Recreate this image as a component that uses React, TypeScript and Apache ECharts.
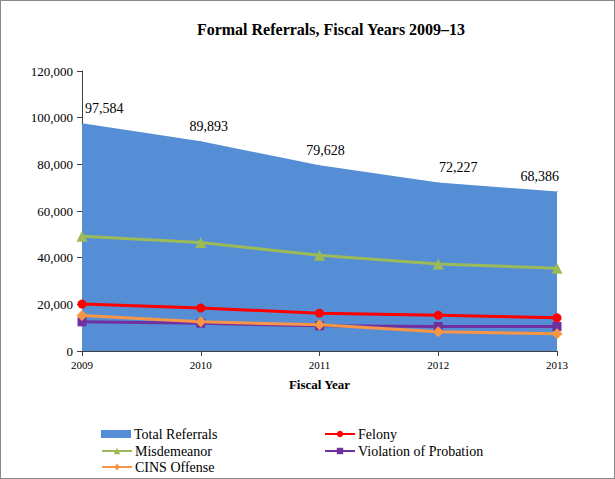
import React, { useEffect, useRef } from "react";
import * as echarts from "echarts";

const years = ["2009", "2010", "2011", "2012", "2013"];
const totalReferrals = [97584, 89893, 79628, 72227, 68386];
const felony = [20100, 18400, 16200, 15300, 14200];
const misdemeanor = [49200, 46500, 41000, 37300, 35500];
const violation = [12500, 11900, 10800, 10500, 10500];
const cins = [15200, 12500, 11200, 8200, 7400];

const FONT = "Liberation Serif";

const labelTweaks = [
  { align: "left", offset: [3, 0] },
  { align: "center", offset: [8, 0] },
  { align: "center", offset: [6, 0] },
  { align: "center", offset: [20, 0] },
  { align: "right", offset: [2, 0] },
];

const legendSlots = [
  { name: "Total Referrals", icon: "rect", left: 100, top: 426 },
  { name: "Felony", left: 323, top: 426 },
  { name: "Misdemeanor", left: 100, top: 443 },
  { name: "Violation of Probation", left: 323, top: 443 },
  { name: "CINS Offense", left: 100, top: 459 },
];

export default function App() {
  const ref = useRef<HTMLDivElement>(null);
  useEffect(() => {
    if (!ref.current) return;
    const chart = echarts.init(ref.current, null, { renderer: "svg" });
    const lineSeries = (name: string, data: number[], color: string, symbol: string, size: number) => ({
      name,
      type: "line",
      data,
      symbol,
      symbolSize: size,
      showAllSymbol: true,
      lineStyle: { color, width: 3 },
      itemStyle: { color },
      z: 3,
    });
    chart.setOption({
      animation: false,
      backgroundColor: "#ffffff",
      textStyle: { fontFamily: FONT },
      title: {
        text: "Formal Referrals, Fiscal Years 2009\u201313",
        left: 325,
        top: 15,
        textAlign: "center",
        textStyle: { fontFamily: FONT, fontSize: 16, fontWeight: "bold", color: "#000" },
      },
      legend: legendSlots.map((s) => ({
        orient: "horizontal",
        left: s.left,
        top: s.top,
        padding: 0,
        itemWidth: 30,
        itemHeight: 8,
        textStyle: { fontFamily: FONT, fontSize: 14, color: "#000", padding: [0, 0, 0, -2] },
        data: [s.icon ? { name: s.name, icon: s.icon, itemStyle: { color: "#558ED5", opacity: 1 } } : s.name],
      })),
      grid: { left: 81, right: 57, top: 70, bottom: 127 },
      xAxis: {
        type: "category",
        data: years,
        boundaryGap: false,
        name: "Fiscal Year",
        nameLocation: "middle",
        nameGap: 27,
        nameTextStyle: { fontFamily: FONT, fontSize: 13, fontWeight: "bold", color: "#000" },
        axisLine: { lineStyle: { color: "#404040", width: 1 } },
        axisTick: { show: true, alignWithLabel: true, length: 5, lineStyle: { color: "#404040" } },
        axisLabel: { fontFamily: FONT, fontSize: 11, color: "#000", margin: 8 },
      },
      yAxis: {
        type: "value",
        min: 0,
        max: 120000,
        interval: 20000,
        axisLine: { show: true, lineStyle: { color: "#404040", width: 1 } },
        axisTick: { show: true, length: 5, lineStyle: { color: "#404040" } },
        splitLine: { show: false },
        axisLabel: {
          fontFamily: FONT,
          fontSize: 13,
          color: "#000",
          margin: 9,
          formatter: (v: number) => v.toLocaleString("en-US"),
        },
      },
      series: [
        {
          name: "Total Referrals",
          type: "line",
          data: totalReferrals.map((v, i) => ({
            value: v,
            label: {
              show: true,
              position: "top",
              distance: 7,
              align: labelTweaks[i].align,
              offset: labelTweaks[i].offset,
              fontFamily: FONT,
              fontSize: 14,
              color: "#000",
            },
          })),
          symbol: "circle",
          symbolSize: 1,
          showAllSymbol: true,
          lineStyle: { width: 0, color: "#558ED5" },
          itemStyle: { color: "#558ED5" },
          areaStyle: { color: "#558ED5", opacity: 1 },
          label: {
            show: true,
            fontFamily: FONT,
            fontSize: 14,
            color: "#000",
            formatter: (p: any) => Number(p.value).toLocaleString("en-US"),
          },
          z: 1,
        },
        lineSeries("Felony", felony, "#FF0000", "circle", 9),
        lineSeries("Misdemeanor", misdemeanor, "#9BBB59", "triangle", 11),
        lineSeries("Violation of Probation", violation, "#7030A0", "rect", 9),
        lineSeries("CINS Offense", cins, "#F79646", "diamond", 11),
      ],
    });
    return () => chart.dispose();
  }, []);
  return (
    <div
      style={{
        position: "fixed",
        left: 0,
        top: 0,
        width: 615,
        height: 479,
        boxSizing: "border-box",
        border: "1px solid #888",
        background: "#fff",
      }}
    >
      <div ref={ref} style={{ width: 613, height: 477 }} />
    </div>
  );
}
